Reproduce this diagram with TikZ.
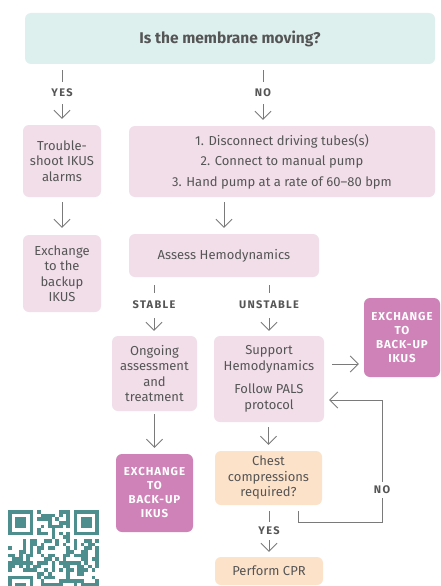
\documentclass[tikz,border=0pt]{standalone}
\usepackage{fontspec}
\setmainfont{Fira Sans}
\newfontfamily\lblfont[LetterSpace=12]{Fira Sans}
\newfontfamily\magfont[LetterSpace=8]{Fira Sans}
\usetikzlibrary{arrows.meta,calc}
\definecolor{tealbox}{HTML}{DEF0EE}
\definecolor{pinkbox}{HTML}{F1DEE9}
\definecolor{magbox}{HTML}{CE82B8}
\definecolor{peachbox}{HTML}{FDE2CA}
\definecolor{txt}{HTML}{555555}
\definecolor{lin}{HTML}{7A7A7A}
\definecolor{qrc}{HTML}{4F8E8E}
\tikzset{
  box/.style={rounded corners=6pt, inner sep=0pt, align=center, text=txt, font=\fontsize{13}{15.5}\selectfont},
  pinkb/.style={box, fill=pinkbox},
  magb/.style={box, fill=magbox, text=white, font=\fontsize{11.5}{14}\magfont\bfseries},
  peachb/.style={box, fill=peachbox},
  lbl/.style={inner sep=0pt, text=txt, font=\fontsize{11}{12}\lblfont\bfseries},
  conn/.style={draw=lin, line width=0.9pt},
  arr/.style={conn, -{Straight Barb[length=8pt,width=16pt,line width=0.9pt]}},
}
\begin{document}
\begin{tikzpicture}[x=1pt,y=-1pt]
\useasboundingbox (0,0) rectangle (440,586);
\fill[white] (0,0) rectangle (440,586);

% boxes
\node[box, fill=tealbox, minimum width=410pt, minimum height=51pt, font=\fontsize{15.5}{17}\selectfont\bfseries] (q) at (230,38.5) {Is the membrane moving?};
\node[pinkb, minimum width=78pt, minimum height=72pt] (ts) at (62,161) {Trouble-\\shoot IKUS\\alarms};
\node[pinkb, minimum width=306pt, minimum height=71pt, font=\fontsize{13}{20.5}\selectfont] (steps) at (282,161.5) {1. Disconnect driving tubes(s)\\2. Connect to manual pump\\3. Hand pump at a rate of 60--80 bpm};
\node[pinkb, minimum width=78pt, minimum height=77pt] (ex1) at (62,273.5) {Exchange\\to the\\backup\\IKUS};
\node[pinkb, minimum width=190pt, minimum height=43pt] (assess) at (224,255.5) {Assess Hemodynamics};
\node[pinkb, minimum width=85pt, minimum height=75pt] (ongo) at (154.5,373.5) {Ongoing\\assessment\\and\\treatment};
\node[pinkb, minimum width=110pt, minimum height=86pt] (sup) at (269,379) {Support\\Hemodynamics\\[8pt]Follow PALS\\protocol};
\node[magb, minimum width=76pt, minimum height=79pt] (ex2) at (402,337.5) {EXCHANGE\\TO\\BACK-UP\\IKUS};
\node[magb, minimum width=77pt, minimum height=78pt] (ex3) at (154.5,493) {EXCHANGE\\TO\\BACK-UP\\IKUS};
\node[peachb, minimum width=107pt, minimum height=54pt] (chest) at (268.5,478) {Chest\\compressions\\required?};
\node[peachb, minimum width=108pt, minimum height=28pt] (cpr) at (269,571) {Perform CPR};

% labels
\node[lbl] (yes1) at (62,93) {YES};
\node[lbl] (no1) at (263,93) {NO};
\node[lbl] (stab) at (154,305) {STABLE};
\node[lbl] (unstab) at (269,305) {UNSTABLE};
\node[lbl] (yes2) at (269,531) {YES};
\node[lbl] (no2) at (382,490) {NO};

\coordinate (h1) at (0,364);
\coordinate (lx) at (298,0);
\coordinate (lc) at (382,522);
\coordinate (lt) at (0,400);

% connectors
\draw[conn, shorten <=6pt, shorten >=7pt] (q.south -| yes1) -- (yes1.north);
\draw[arr, shorten <=7pt, shorten >=6pt] (yes1.south) -- (ts.north);
\draw[conn, shorten <=6pt, shorten >=7pt] (q.south -| no1) -- (no1.north);
\draw[arr, shorten <=7pt, shorten >=6pt] (no1.south) -- (steps.north -| no1);
\draw[arr, shorten <=5pt, shorten >=7pt] (ts.south) -- (ex1.north);
\draw[arr, shorten <=5pt, shorten >=6pt] (steps.south -| assess.north) -- (assess.north);
\draw[conn, shorten <=8pt, shorten >=8pt] (assess.south -| stab) -- (stab.north);
\draw[arr, shorten <=9pt, shorten >=5pt] (stab.south) -- (ongo.north -| stab);
\draw[conn, shorten <=8pt, shorten >=8pt] (assess.south -| unstab) -- (unstab.north);
\draw[arr, shorten <=9pt, shorten >=5pt] (unstab.south) -- (sup.north -| unstab);
\draw[arr, shorten <=8pt, shorten >=5pt] (sup.east |- h1) -- (ex2.west |- h1);
\draw[arr, shorten <=3pt, shorten >=6pt] (ongo.south) -- (ex3.north);
\draw[arr, shorten <=5pt, shorten >=6pt] (sup.south -| chest) -- (chest.north);
\draw[conn, shorten <=6pt, shorten >=5pt] (chest.south -| yes2) -- (yes2.north);
\draw[arr, shorten <=5pt, shorten >=5pt] (yes2.south) -- (cpr.north -| yes2);
\draw[conn, shorten <=6pt, shorten >=4pt] (chest.south -| lx) -- (lx |- lc) -- (lc) -- (no2.south);
\draw[arr, shorten <=4pt, shorten >=5pt] (no2.north) -- (no2.north |- lt) -- (sup.east |- lt);

% QR code
\begin{scope}
\clip (0,505) rectangle (110,586);
\pgfmathsetseed{7}
\foreach \i in {0,...,24}{\foreach \j in {0,...,24}{
  \pgfmathtruncatemacro{\rr}{rnd<0.5?1:0}
  \pgfmathtruncatemacro{\infd}{((\i<8)&&(\j<8))||((\i>16)&&(\j<8))||((\i<8)&&(\j>16))?1:0}
  \ifnum\infd=0 \ifnum\rr=1 \fill[qrc] (8+\i*3.64,510+\j*3.64) rectangle ++(3.64,3.64); \fi\fi
}}
\foreach \ox/\oy in {0/0,18/0,0/18}{
  \fill[qrc] (8+\ox*3.64,510+\oy*3.64) rectangle ++(7*3.64,7*3.64);
  \fill[white] (8+\ox*3.64+3.64,510+\oy*3.64+3.64) rectangle ++(5*3.64,5*3.64);
  \fill[qrc] (8+\ox*3.64+7.28,510+\oy*3.64+7.28) rectangle ++(3*3.64,3*3.64);
}
\end{scope}
\end{tikzpicture}
\end{document}
